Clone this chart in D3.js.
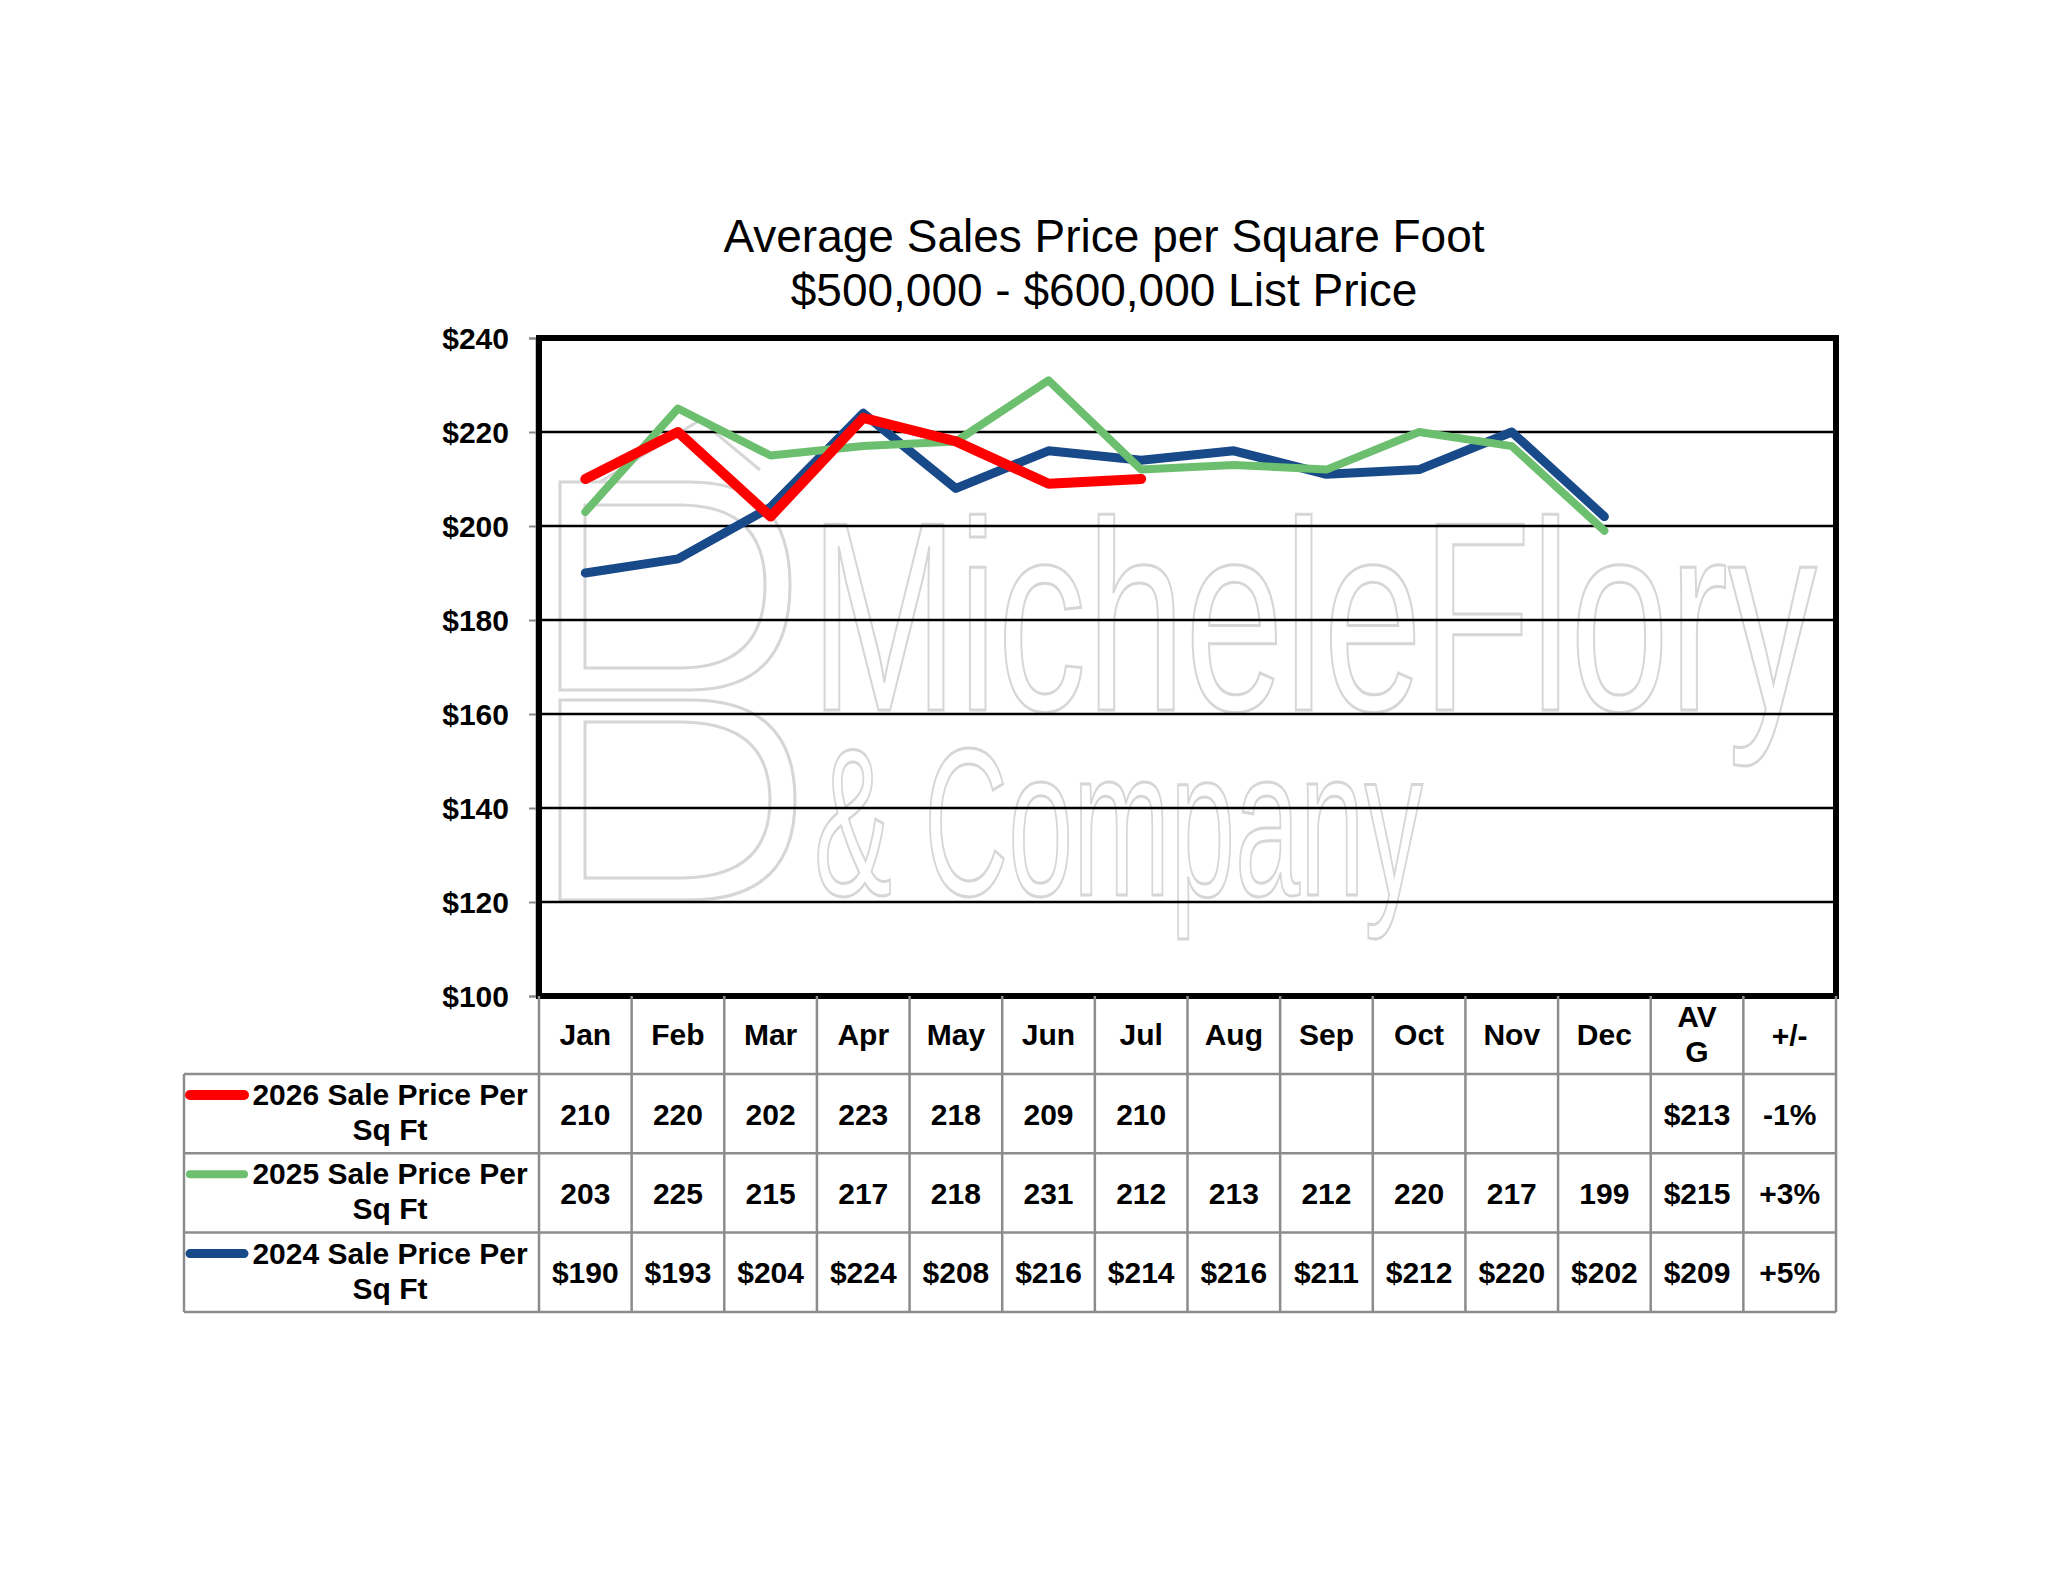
<!DOCTYPE html>
<html>
<head>
<meta charset="utf-8">
<script src="https://cdn.jsdelivr.net/npm/d3@7"></script>
<style>
  body { margin: 0; background: #fff; }
  text { font-family: "Liberation Sans", Arial, sans-serif; }
</style>
</head>
<body>
<div id="chart"></div>
<script>
// Chart data
// ==========
var months = ["Jan", "Feb", "Mar", "Apr", "May", "Jun", "Jul", "Aug", "Sep", "Oct", "Nov", "Dec"];
var extraColumns = ["AVG", "+/-"];
var yTicks = [100, 120, 140, 160, 180, 200, 220, 240];

var sales2026 = [210, 220, 202, 223, 218, 209, 210];
var sales2025 = [203, 225, 215, 217, 218, 231, 212, 213, 212, 220, 217, 199];
var sales2024 = [190, 193, 204, 224, 208, 216, 214, 216, 211, 212, 220, 202];

var seriesNames = ["2026 Sale Price Per Sq Ft", "2025 Sale Price Per Sq Ft", "2024 Sale Price Per Sq Ft"];
var seriesAvg = ["$213", "$215", "$209"];
var seriesChange = ["-1%", "+3%", "+5%"];

// Series setup (colours, widths, how the table prints the numbers)
var series = [
    { name: seriesNames[0], values: sales2026, color: "#ff0000", width: 10, prefix: "", avg: seriesAvg[0], change: seriesChange[0] },
    { name: seriesNames[1], values: sales2025, color: "#6cbf6e", width: 8, prefix: "", avg: seriesAvg[1], change: seriesChange[1] },
    { name: seriesNames[2], values: sales2024, color: "#184a8a", width: 9, prefix: "$", avg: seriesAvg[2], change: seriesChange[2] }
];

// SVG / layout
// ============
var svgWidth = 2048, svgHeight = 1583;
var plot = { left: 539, right: 1836, top: 338, bottom: 996 };
var table = { labelLeft: 184, headerBottom: 1074, rowHeight: 79.3 };

var svg = d3.select("#chart").append("svg")
    .attr("width", svgWidth)
    .attr("height", svgHeight);

// Scales
var allColumns = months.concat(extraColumns);
var xScale = d3.scaleBand().domain(allColumns).range([plot.left, plot.right]);
var yScale = d3.scaleLinear().domain([100, 240]).range([plot.bottom, plot.top]);

// Title
// =====
var title = svg.append("text")
    .attr("x", 1104)
    .attr("text-anchor", "middle")
    .style("font-size", "46px")
    .attr("fill", "#000");
title.append("tspan").attr("x", 1104).attr("y", 252).text("Average Sales Price per Square Foot");
title.append("tspan").attr("x", 1104).attr("y", 306).text("$500,000 - $600,000 List Price");

// Watermark (background picture of the plot area)
// ===============================================
var wm = svg.append("g")
    .attr("fill", "none")
    .attr("stroke", "#d6d6d6")
    .attr("stroke-width", 3);

wm.append("path")
    .attr("d", "M560,482 L690,482 Q790,482 790,585 Q790,690 690,690 L560,690 Z M585,505 L680,505 Q765,505 765,585 Q765,668 680,668 L585,668 Z");
wm.append("path")
    .attr("d", "M560,700 L690,700 Q795,700 795,800 Q795,900 690,900 L560,900 Z M585,722 L680,722 Q770,722 770,800 Q770,878 680,878 L585,878 Z");
wm.append("path")
    .attr("d", "M600,482 L700,420 L760,470");

wm.append("text")
    .attr("transform", "translate(810,710) scale(0.658,1)")
    .style("font-size", "270px")
    .text("MicheleFlory");

wm.append("text")
    .attr("transform", "translate(814,895) scale(0.555,1)")
    .style("font-size", "210px")
    .text("& Company");

// Gridlines and axis
// ==================
svg.append("g")
    .selectAll("line")
    .data(yTicks.filter(function(t) { return t > 100 && t < 240; }))
    .enter()
    .append("line")
    .attr("x1", plot.left)
    .attr("x2", plot.right)
    .attr("y1", function(d) { return yScale(d); })
    .attr("y2", function(d) { return yScale(d); })
    .attr("stroke", "#000")
    .attr("stroke-width", 2.5);

var leftAxis = d3.axisLeft(yScale)
    .tickValues(yTicks)
    .tickSize(7)
    .tickPadding(20)
    .tickFormat(function(d) { return "$" + d; });

var yAxis = svg.append("g")
    .attr("transform", "translate(" + (plot.left - 3) + ",0)")
    .call(leftAxis);
yAxis.select(".domain").attr("stroke", "#888").attr("stroke-width", 2);
yAxis.selectAll(".tick line").attr("stroke", "#888").attr("stroke-width", 2);
yAxis.selectAll(".tick text")
    .style("font-size", "30px")
    .style("font-weight", "bold")
    .attr("fill", "#000")
    .attr("dy", "0.34em");

// Plot border
svg.append("rect")
    .attr("x", plot.left)
    .attr("y", plot.top)
    .attr("width", plot.right - plot.left)
    .attr("height", plot.bottom - plot.top)
    .attr("fill", "none")
    .attr("stroke", "#000")
    .attr("stroke-width", 6);

// Lines
// =====
var line = d3.line()
    .x(function(d, i) { return xScale(months[i]) + xScale.bandwidth() / 2; })
    .y(function(d) { return yScale(d); });

svg.append("g")
    .selectAll("path")
    .data(series.slice().reverse())
    .enter()
    .append("path")
    .attr("d", function(d) { return line(d.values); })
    .attr("fill", "none")
    .attr("stroke", function(d) { return d.color; })
    .attr("stroke-width", function(d) { return d.width; })
    .attr("stroke-linejoin", "round")
    .attr("stroke-linecap", "round");

// Data table
// ==========
var tableGroup = svg.append("g");
var gridColor = "#8c8c8c";
var rowsBottom = table.headerBottom + table.rowHeight * series.length;

// vertical lines for each column
allColumns.forEach(function(c) {
    tableGroup.append("line")
        .attr("x1", xScale(c)).attr("x2", xScale(c))
        .attr("y1", plot.bottom).attr("y2", rowsBottom)
        .attr("stroke", gridColor).attr("stroke-width", 2.5);
});
tableGroup.append("line")
    .attr("x1", plot.right).attr("x2", plot.right)
    .attr("y1", plot.bottom).attr("y2", rowsBottom)
    .attr("stroke", gridColor).attr("stroke-width", 2.5);
tableGroup.append("line")
    .attr("x1", table.labelLeft).attr("x2", table.labelLeft)
    .attr("y1", table.headerBottom).attr("y2", rowsBottom)
    .attr("stroke", gridColor).attr("stroke-width", 2.5);

// horizontal lines
d3.range(series.length + 1).forEach(function(i) {
    tableGroup.append("line")
        .attr("x1", table.labelLeft).attr("x2", plot.right)
        .attr("y1", table.headerBottom + i * table.rowHeight)
        .attr("y2", table.headerBottom + i * table.rowHeight)
        .attr("stroke", gridColor).attr("stroke-width", 2.5);
});

// header labels
var headerMid = xScale.bandwidth() / 2;
months.forEach(function(m) {
    tableGroup.append("text")
        .attr("x", xScale(m) + headerMid)
        .attr("y", 1045)
        .attr("text-anchor", "middle")
        .style("font-size", "30px")
        .style("font-weight", "bold")
        .text(m);
});
var avgHeader = tableGroup.append("text")
    .attr("text-anchor", "middle")
    .style("font-size", "30px")
    .style("font-weight", "bold");
avgHeader.append("tspan").attr("x", xScale("AVG") + headerMid).attr("y", 1027).text("AV");
avgHeader.append("tspan").attr("x", xScale("AVG") + headerMid).attr("y", 1062).text("G");
tableGroup.append("text")
    .attr("x", xScale("+/-") + headerMid)
    .attr("y", 1046)
    .attr("text-anchor", "middle")
    .style("font-size", "30px")
    .style("font-weight", "bold")
    .text("+/-");

// rows
series.forEach(function(s, r) {
    var rowTop = table.headerBottom + r * table.rowHeight;
    var rowMid = rowTop + table.rowHeight / 2;

    // legend key
    tableGroup.append("line")
        .attr("x1", 190).attr("x2", 244)
        .attr("y1", rowTop + 21).attr("y2", rowTop + 21)
        .attr("stroke", s.color)
        .attr("stroke-width", s.width)
        .attr("stroke-linecap", "round");

    // label, two lines
    var words = s.name.split(" ");
    var label = tableGroup.append("text")
        .attr("text-anchor", "middle")
        .style("font-size", "30px")
        .style("font-weight", "bold");
    label.append("tspan").attr("x", 390).attr("y", rowTop + 31).text(words.slice(0, 4).join(" "));
    label.append("tspan").attr("x", 390).attr("y", rowTop + 66).text(words.slice(4).join(" "));

    // values
    s.values.forEach(function(v, i) {
        tableGroup.append("text")
            .attr("x", xScale(months[i]) + headerMid)
            .attr("y", rowMid + 11)
            .attr("text-anchor", "middle")
            .style("font-size", "30px")
            .style("font-weight", "bold")
            .text(s.prefix + v);
    });
    tableGroup.append("text")
        .attr("x", xScale("AVG") + headerMid)
        .attr("y", rowMid + 11)
        .attr("text-anchor", "middle")
        .style("font-size", "30px")
        .style("font-weight", "bold")
        .text(s.avg);
    tableGroup.append("text")
        .attr("x", xScale("+/-") + headerMid)
        .attr("y", rowMid + 11)
        .attr("text-anchor", "middle")
        .style("font-size", "30px")
        .style("font-weight", "bold")
        .text(s.change);
});
</script>
</body>
</html>
